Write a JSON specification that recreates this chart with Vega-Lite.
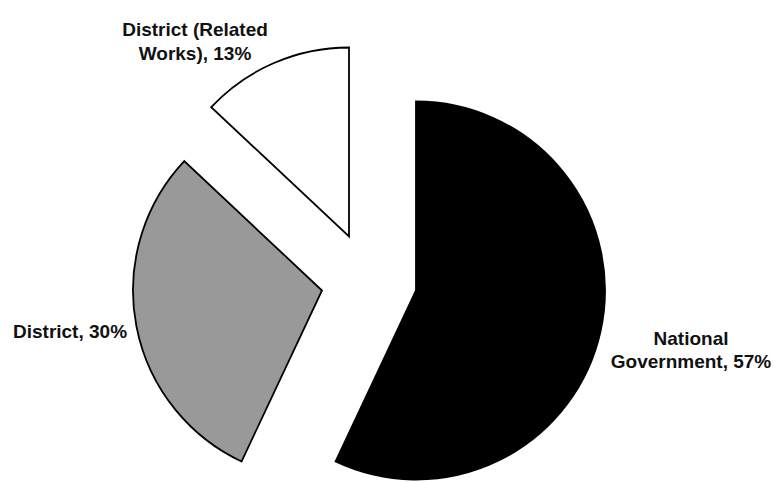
{
  "$schema": "https://vega.github.io/schema/vega-lite/v6.json",
  "width": 777,
  "height": 482,
  "autosize": {"type": "fit", "contains": "padding"},
  "padding": 0,
  "background": "white",
  "config": {"view": {"stroke": null}},
  "data": {
    "values": [
      {"slice": "National Government", "share": 57, "lines": ["National", "Government, 57%"], "order": 1},
      {"slice": "District", "share": 30, "lines": ["District, 30%"], "order": 2},
      {"slice": "District (Related Works)", "share": 13, "lines": ["District (Related", "Works), 13%"], "order": 3}
    ]
  },
  "transform": [
    {"stack": "share", "groupby": [], "sort": [{"field": "order", "order": "ascending"}], "as": ["s0", "s1"]}
  ],
  "layer": [
    {
      "transform": [{"filter": {"field": "slice", "equal": "National Government"}}],
      "layer": [
        {
          "mark": {"type": "arc", "outerRadius": 189, "xOffset": 27.5, "yOffset": 51, "fill": "#000000", "stroke": "#000000", "strokeWidth": 1.8},
          "encoding": {
            "theta": {"field": "s0", "type": "quantitative", "scale": {"domain": [0, 100]}},
            "theta2": {"field": "s1"}
          }
        },
        {
          "mark": {"type": "text", "xOffset": 27.5, "yOffset": 51, "dx": 275, "dy": 48, "font": "Liberation Sans", "fontWeight": "bold", "fontSize": 19, "lineHeight": 23.5, "align": "center", "baseline": "middle", "color": "#111111"},
          "encoding": {
            "text": {"field": "lines"}
          }
        }
      ]
    },
    {
      "transform": [{"filter": {"field": "slice", "equal": "District"}}],
      "layer": [
        {
          "mark": {"type": "arc", "outerRadius": 189, "xOffset": -66.5, "yOffset": 51, "fill": "#999999", "stroke": "#000000", "strokeWidth": 1.8},
          "encoding": {
            "theta": {"field": "s0", "type": "quantitative", "scale": {"domain": [0, 100]}},
            "theta2": {"field": "s1"}
          }
        },
        {
          "mark": {"type": "text", "xOffset": -66.5, "yOffset": 51, "dx": -252, "dy": 41.5, "font": "Liberation Sans", "fontWeight": "bold", "fontSize": 19, "lineHeight": 23.5, "align": "center", "baseline": "middle", "color": "#111111"},
          "encoding": {
            "text": {"field": "lines"}
          }
        }
      ]
    },
    {
      "transform": [{"filter": {"field": "slice", "equal": "District (Related Works)"}}],
      "layer": [
        {
          "mark": {"type": "arc", "outerRadius": 189, "xOffset": -39.5, "yOffset": -3, "fill": "#ffffff", "stroke": "#000000", "strokeWidth": 1.8},
          "encoding": {
            "theta": {"field": "s0", "type": "quantitative", "scale": {"domain": [0, 100]}},
            "theta2": {"field": "s1"}
          }
        },
        {
          "mark": {"type": "text", "xOffset": -39.5, "yOffset": -3, "dx": -154, "dy": -206.5, "font": "Liberation Sans", "fontWeight": "bold", "fontSize": 19, "lineHeight": 23.5, "align": "center", "baseline": "middle", "color": "#111111"},
          "encoding": {
            "text": {"field": "lines"}
          }
        }
      ]
    }
  ]
}
